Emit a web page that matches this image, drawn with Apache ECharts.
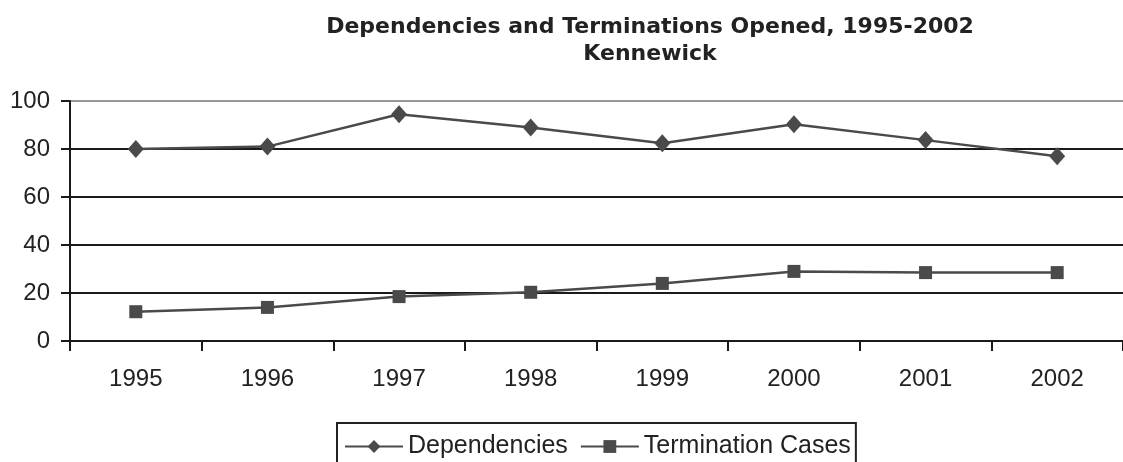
<!DOCTYPE html>
<html>
<head>
<meta charset="utf-8">
<style>
  html, body { margin: 0; padding: 0; background: #fff; }
  #main { width: 1123px; height: 462px; }
</style>
<script src="https://cdn.jsdelivr.net/npm/echarts@6/dist/echarts.min.js"></script>
</head>
<body>
<div id="main"></div>
<script>
// chart data
const years = ['1995', '1996', '1997', '1998', '1999', '2000', '2001', '2002'];
const dependencies = [80, 81, 94.5, 89, 82.4, 90.3, 83.7, 77];
const terminations = [12.2, 14, 18.5, 20.3, 24, 29, 28.5, 28.5];

const lineColor = '#4a4a4c';
const font = 'Liberation Sans';

const option = {
    animation: false,
    title: {
        text: 'Dependencies and Terminations Opened, 1995-2002\nKennewick',
        left: 645,
        top: 9,
        textAlign: 'center',
        textStyle: {
            fontFamily: 'DejaVu Sans',
            fontWeight: 'bold',
            fontSize: 22,
            lineHeight: 27,
            color: '#222'
        }
    },
    legend: {
        left: 337,
        top: 423,
        padding: [11, 5, 12, 7],
        itemGap: 12,
        itemWidth: 58,
        itemHeight: 16,
        borderColor: '#222',
        borderWidth: 2,
        textStyle: { fontFamily: font, fontSize: 25, color: '#222' },
        data: ['Dependencies', 'Termination Cases']
    },
    grid: {
        left: 70,
        top: 101,
        width: 1056,
        height: 240
    },
    xAxis: {
        type: 'category',
        data: years,
        boundaryGap: true,
        axisLine: { lineStyle: { color: '#1a1a1a', width: 2 } },
        axisTick: { show: true, alignWithLabel: false, interval: 0, length: 10, lineStyle: { color: '#1a1a1a', width: 2 } },
        axisLabel: { fontFamily: font, fontSize: 24, color: '#222', margin: 26 }
    },
    yAxis: {
        type: 'value',
        min: 0,
        max: 100,
        interval: 20,
        axisLine: { show: true, lineStyle: { color: '#1a1a1a', width: 2 } },
        axisTick: { show: true, length: 9, lineStyle: { color: '#1a1a1a', width: 2 } },
        axisLabel: { fontFamily: font, fontSize: 24, color: '#222', margin: 20 },
        splitLine: {
            lineStyle: {
                color: ['#1a1a1a', '#1a1a1a', '#1a1a1a', '#1a1a1a', '#1a1a1a', '#999'],
                width: 2
            }
        }
    },
    series: [
        {
            name: 'Dependencies',
            type: 'line',
            data: dependencies,
            symbol: 'diamond',
            symbolSize: [16, 18],
            lineStyle: { color: lineColor, width: 2.5 },
            itemStyle: { color: lineColor }
        },
        {
            name: 'Termination Cases',
            type: 'line',
            data: terminations,
            symbol: 'rect',
            symbolSize: 13,
            lineStyle: { color: lineColor, width: 2.5 },
            itemStyle: { color: lineColor }
        }
    ]
};

let plot = echarts.init(document.querySelector('#main'));
plot.setOption(option);
</script>
</body>
</html>
